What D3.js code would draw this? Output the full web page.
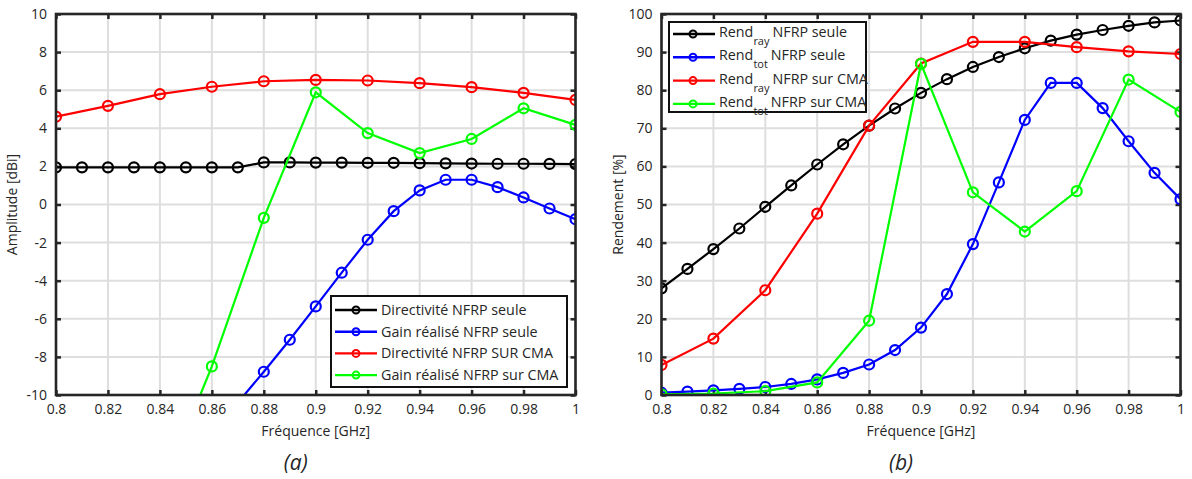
<!DOCTYPE html>
<html><head><meta charset="utf-8">
<script src="https://cdn.jsdelivr.net/npm/d3@7"></script>
<style>body{margin:0;background:#fff}svg{display:block}text{font-family:"Open Sans",sans-serif;fill:#262626}</style>
</head><body><svg id="c" width="1192" height="479"></svg>
<script>
// ---------- data ----------
const freqFine = [0.80,0.81,0.82,0.83,0.84,0.85,0.86,0.87,0.88,0.89,0.90,0.91,0.92,0.93,0.94,0.95,0.96,0.97,0.98,0.99,1.00];
const freqCoarse = [0.80,0.82,0.84,0.86,0.88,0.90,0.92,0.94,0.96,0.98,1.00];
const xTicks = [0.8,0.82,0.84,0.86,0.88,0.9,0.92,0.94,0.96,0.98,1];
const yTicksA = [-10,-8,-6,-4,-2,0,2,4,6,8,10];
const yTicksB = [0,10,20,30,40,50,60,70,80,90,100];

// (a) amplitude [dBi]
const dirSeule = [1.95,1.95,1.95,1.95,1.95,1.95,1.95,1.95,2.21,2.21,2.2,2.2,2.19,2.19,2.17,2.16,2.15,2.14,2.14,2.13,2.12];
const gainSeule = [-24,-22.5,-21,-19,-17,-15,-13.1,-10.4,-8.78,-7.1,-5.35,-3.58,-1.85,-0.35,0.74,1.3,1.3,0.91,0.37,-0.21,-0.77];
const dirCMA = [4.61,5.18,5.79,6.18,6.47,6.54,6.51,6.37,6.16,5.86,5.49];
const gainCMA = [-25,-22,-15.2,-8.5,-0.7,5.89,3.75,2.70,3.44,5.05,4.18];
const legendA = ["Directivité NFRP seule","Gain réalisé NFRP seule","Directivité NFRP SUR CMA","Gain réalisé NFRP sur CMA"];

// (b) rendement [%]
const raySeule = [28.0,33.1,38.3,43.7,49.4,55.0,60.5,65.8,70.7,75.2,79.3,82.9,86.1,88.7,91.0,93.0,94.6,95.8,96.9,97.8,98.3];
const totSeule = [0.6,0.9,1.2,1.6,2.1,2.9,4.1,5.8,8.0,11.8,17.7,26.5,39.6,55.8,72.2,81.9,81.9,75.3,66.6,58.3,51.4];
const rayCMA = [7.9,14.8,27.5,47.6,70.7,87.0,92.7,92.7,91.3,90.2,89.5];
const totCMA = [0.2,0.4,1.0,3.3,19.5,86.9,53.2,42.9,53.5,82.8,74.3];
const legendBMain = ["Rend","Rend","Rend","Rend"];
const legendBSub = ["ray","tot","ray","tot"];
const legendBRest = ["NFRP seule","NFRP seule","NFRP sur CMA","NFRP sur CMA"];

const colors = ["#000000","#0000ff","#ff0000","#00ff00"];

const svg = d3.select("#c");
const axisCol = "#262626";
const fmt = d => String(+d.toFixed(2));

function panel(id, left, right, top, bottom, yDomain, yTicks, series, yLabel, caption, legendFn){
  const x = d3.scaleLinear().domain([0.8,1]).range([left,right]);
  const y = d3.scaleLinear().domain(yDomain).range([bottom,top]);
  const g = svg.append("g");
  g.append("clipPath").attr("id","clip"+id).append("rect")
    .attr("x",left).attr("y",top).attr("width",right-left).attr("height",bottom-top);
  // grid
  g.append("g").selectAll("line").data(xTicks).join("line")
    .attr("x1",d=>x(d)).attr("x2",d=>x(d)).attr("y1",top).attr("y2",bottom)
    .attr("stroke","#dedede").attr("stroke-width",2);
  g.append("g").selectAll("line").data(yTicks).join("line")
    .attr("y1",d=>y(d)).attr("y2",d=>y(d)).attr("x1",left).attr("x2",right)
    .attr("stroke","#dedede").attr("stroke-width",2);
  // axes
  const ax = g.append("g").attr("transform",`translate(0,${bottom})`)
    .call(d3.axisBottom(x).tickValues(xTicks).tickSizeInner(-5).tickSizeOuter(0).tickPadding(9).tickFormat(fmt));
  const ay = g.append("g").attr("transform",`translate(${left},0)`)
    .call(d3.axisLeft(y).tickValues(yTicks).tickSizeInner(-5).tickSizeOuter(0).tickPadding(9).tickFormat(fmt));
  const axT = g.append("g").attr("transform",`translate(0,${top})`)
    .call(d3.axisTop(x).tickValues(xTicks).tickSizeInner(-5).tickSizeOuter(0).tickFormat(""));
  const ayR = g.append("g").attr("transform",`translate(${right},0)`)
    .call(d3.axisRight(y).tickValues(yTicks).tickSizeInner(-5).tickSizeOuter(0).tickFormat(""));
  [ax,ay,axT,ayR].forEach(a=>{
    a.select(".domain").remove();
    a.selectAll(".tick line").attr("stroke",axisCol).attr("stroke-width",2.5);
    a.selectAll(".tick text").attr("font-size",14).attr("fill","#333");
  });
  // series
  const clip = g.append("g").attr("clip-path",`url(#clip${id})`);
  series.forEach((s,i)=>{
    const line = d3.line().x((d,j)=>x(s.x[j])).y(d=>y(d));
    clip.append("path").datum(s.y).attr("d",line).attr("fill","none")
      .attr("stroke",colors[i]).attr("stroke-width",2.2);
    clip.append("g").selectAll("circle").data(s.y).join("circle")
      .attr("cx",(d,j)=>x(s.x[j])).attr("cy",d=>y(d)).attr("r",5)
      .attr("fill","none").attr("stroke",colors[i]).attr("stroke-width",2.2);
  });
  // frame
  g.append("rect").attr("x",left).attr("y",top).attr("width",right-left).attr("height",bottom-top)
    .attr("fill","none").attr("stroke",axisCol).attr("stroke-width",2.6);
  // labels
  g.append("text").attr("x",(left+right)/2).attr("y",bottom+41).attr("text-anchor","middle")
    .attr("font-size",14).text("Fréquence [GHz]");
  g.append("text").attr("transform",`translate(${left-39},${(top+bottom)/2}) rotate(-90)`)
    .attr("text-anchor","middle").attr("font-size",14).text(yLabel);
  g.append("text").attr("x",(left+right)/2 - 20).attr("y",470).attr("text-anchor","middle")
    .attr("font-size",21).attr("font-style","italic").attr("fill","#222").text(caption);
  legendFn(g);
}

panel("a",56,575.5,14,395,[-10,10],yTicksA,[
  {x:freqFine,y:dirSeule},{x:freqFine,y:gainSeule},{x:freqCoarse,y:dirCMA},{x:freqCoarse,y:gainCMA}
],"Amplitude [dBi]","(a)",g=>{
  const lx=331, ly=296, w=236, h=91;
  g.append("rect").attr("x",lx).attr("y",ly).attr("width",w).attr("height",h)
    .attr("fill","#fff").attr("stroke","#111").attr("stroke-width",2);
  legendA.forEach((t,i)=>{
    const yy = ly+14+i*21.7;
    g.append("line").attr("x1",lx+4).attr("x2",lx+46).attr("y1",yy).attr("y2",yy)
      .attr("stroke",colors[i]).attr("stroke-width",2.4);
    g.append("circle").attr("cx",lx+25).attr("cy",yy).attr("r",3.5).attr("fill","none")
      .attr("stroke",colors[i]).attr("stroke-width",2);
    g.append("text").attr("x",lx+50).attr("y",yy+5).attr("font-size",14.3).attr("fill","#111").text(t);
  });
});

panel("b",661.5,1180.5,14,395,[0,100],yTicksB,[
  {x:freqFine,y:raySeule},{x:freqFine,y:totSeule},{x:freqCoarse,y:rayCMA},{x:freqCoarse,y:totCMA}
],"Rendement [%]","(b)",g=>{
  const lx=669, ly=22, w=197, h=90;
  g.append("rect").attr("x",lx).attr("y",ly).attr("width",w).attr("height",h)
    .attr("fill","#fff").attr("stroke","#111").attr("stroke-width",2);
  legendBMain.forEach((t,i)=>{
    const yy = ly+12+i*23.3;
    g.append("line").attr("x1",lx+4).attr("x2",lx+46).attr("y1",yy).attr("y2",yy)
      .attr("stroke",colors[i]).attr("stroke-width",2.4);
    g.append("circle").attr("cx",lx+24).attr("cy",yy).attr("r",3.5).attr("fill","none")
      .attr("stroke",colors[i]).attr("stroke-width",2);
    const tx = g.append("text").attr("x",lx+50).attr("y",yy+3).attr("font-size",14.3).attr("fill","#111");
    tx.append("tspan").text(t);
    tx.append("tspan").attr("dy",8).attr("font-size",11).text(legendBSub[i]);
    tx.append("tspan").attr("dy",-8).attr("dx",3).text(legendBRest[i]);
  });
});
</script></body></html>
